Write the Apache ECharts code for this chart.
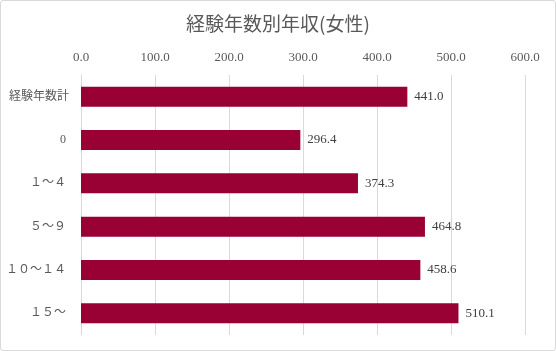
<!DOCTYPE html>
<html><head><meta charset="utf-8">
<script src="https://cdn.jsdelivr.net/npm/echarts@6/dist/echarts.min.js"></script>
<style>html,body{margin:0;padding:0;background:#fff}
#c{position:absolute;left:0;top:0;width:554px;height:349px;border:1px solid #d9d9d9;border-radius:3px}</style>
</head><body><div id="c"></div>
<script>
const titleText = '経験年数別年収(女性)';
const categories = ['経験年数計', '0', '１～４', '５～９', '１０～１４', '１５～'];
const values = [441.0, 296.4, 374.3, 464.8, 458.6, 510.1];
const xMin = 0, xMax = 600, xStep = 100;

const chart = echarts.init(document.getElementById('c'));
chart.setOption({
  animation: false,
  title: {text: titleText, left: 'center', top: 8,
    textStyle: {fontFamily: 'Noto Sans CJK JP', fontWeight: 'normal', fontSize: 19, color: '#595959'}},
  grid: {left: 80, right: 30, top: 74, bottom: 15},
  xAxis: {type: 'value', position: 'top', min: xMin, max: xMax, interval: xStep,
    axisLine: {show: false}, axisTick: {show: false},
    splitLine: {lineStyle: {color: '#d9d9d9'}},
    axisLabel: {formatter: v => v.toFixed(1), color: '#595959', fontFamily: 'Liberation Serif', fontSize: 13, margin: 11}},
  yAxis: {type: 'category', data: categories, inverse: true,
    axisLine: {show: true, lineStyle: {color: '#d9d9d9'}}, axisTick: {show: false},
    axisLabel: {color: '#595959', fontFamily: 'Liberation Serif, Noto Sans CJK JP', fontSize: 12, margin: 12,
      formatter: (v, i) => i === 0 ? v : v + ' '}},
  series: [{type: 'bar', data: values, barWidth: 20,
    itemStyle: {color: '#990033'},
    label: {show: true, position: 'right', distance: 7, formatter: p => p.value.toFixed(1),
      color: '#404040', fontFamily: 'Liberation Serif', fontSize: 13}}]
});
</script></body></html>
